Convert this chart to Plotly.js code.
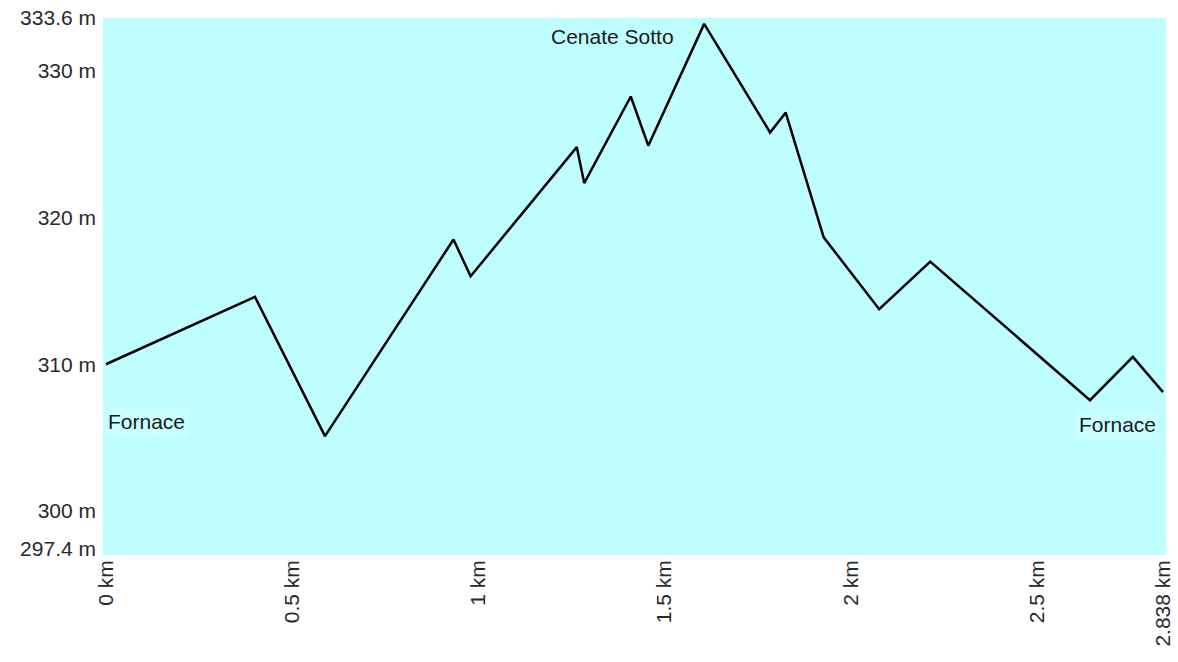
<!DOCTYPE html>
<html>
<head>
<meta charset="utf-8">
<script src="https://cdn.plot.ly/plotly-3.0.1.min.js"></script>
<style>html,body{margin:0;padding:0;background:#fff;}#chart{width:1178px;height:662px;}</style>
</head>
<body>
<div id="chart"></div>
<script>
// Distance along route (km)
const distanceKm = [0, 0.400, 0.588, 0.933, 0.979, 1.264, 1.284, 1.409, 1.456, 1.606, 1.783, 1.825, 1.927, 2.076, 2.213, 2.642, 2.757, 2.838];
// Elevation (m)
const elevationM = [310.0, 314.6, 305.1, 318.5, 316.0, 324.8, 322.35, 328.25, 324.9, 333.2, 325.8, 327.15, 318.65, 313.75, 317.0, 307.55, 310.5, 308.1];

const xTickVals = [0, 0.5, 1, 1.5, 2, 2.5, 2.838];
const xTickText = ["0 km", "0.5 km", "1 km", "1.5 km", "2 km", "2.5 km", "2.838 km"];
const yTickVals = [297.4, 300, 310, 320, 330, 333.6];
const yTickText = ["297.4 m", "300 m", "310 m", "320 m", "330 m", "333.6 m"];

const placeNames = ["Fornace", "Cenate Sotto", "Fornace"];
const placeX = [0.110, 1.361, 2.717];
const placeY = [306.1, 332.37, 305.9];

const trace = {
  x: distanceKm,
  y: elevationM,
  type: 'scatter',
  mode: 'lines',
  line: {color: '#000000', width: 2.5},
  hoverinfo: 'skip'
};

const annotations = placeNames.map((t, i) => ({
  x: placeX[i], y: placeY[i], xref: 'x', yref: 'y',
  text: t, showarrow: false, xanchor: 'center', yanchor: 'middle',
  font: {family: 'Liberation Sans, Arial, sans-serif', size: 21, color: '#1a1a1a'},
  bgcolor: i === 1 ? 'rgba(0,0,0,0)' : 'rgba(210,255,255,0.5)',
  borderpad: 3
}));

const layout = {
  width: 1178, height: 662,
  margin: {l: 103, r: 12, t: 18, b: 107},
  paper_bgcolor: '#ffffff',
  plot_bgcolor: '#bffeff',
  showlegend: false,
  xaxis: {
    range: [-0.008, 2.846],
    tickvals: xTickVals, ticktext: xTickText,
    tickangle: -90,
    showgrid: false, zeroline: false, showline: false, ticks: '',
    tickfont: {family: 'Liberation Sans, Arial, sans-serif', size: 21, color: '#2a2a2a'},
    fixedrange: true
  },
  yaxis: {
    range: [297.0, 333.6],
    tickvals: yTickVals, ticktext: yTickText,
    showgrid: false, zeroline: false, showline: false, ticks: '',
    ticklabelstandoff: 6,
    tickfont: {family: 'Liberation Sans, Arial, sans-serif', size: 21, color: '#2a2a2a'},
    fixedrange: true
  },
  annotations: annotations
};

Plotly.newPlot('chart', [trace], layout, {displayModeBar: false, staticPlot: true});
</script>
</body>
</html>
